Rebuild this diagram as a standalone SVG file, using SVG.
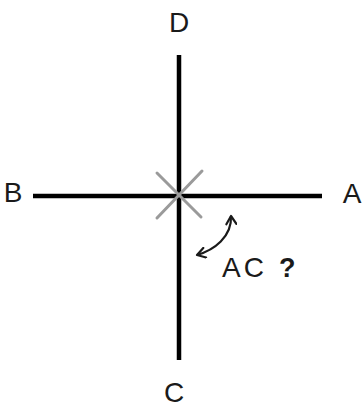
<svg xmlns="http://www.w3.org/2000/svg" width="363" height="407" viewBox="0 0 363 407">
<defs>
<style>
.lbl{font-family:"Liberation Sans",Arial,sans-serif;font-size:28px;fill:#1a1a1a}
.axis{stroke:#000;stroke-width:4.5;stroke-linecap:butt}
.xmark{stroke:#9a9a9a;stroke-width:3;stroke-linecap:round}
</style>
<marker id="chev" viewBox="0 0 12 12" refX="10" refY="6" markerWidth="12" markerHeight="12" markerUnits="userSpaceOnUse" orient="auto-start-reverse">
<path d="M2,1 L10,6 L2,11" fill="none" stroke="#1a1a1a" stroke-width="2.2" stroke-linecap="round" stroke-linejoin="round"/>
</marker>
</defs>
<rect width="363" height="407" fill="#fff"/>
<g id="connectors">
<line class="axis" x1="179" y1="55" x2="179" y2="360"/>
<line class="axis" x1="33" y1="196" x2="322" y2="196"/>
<line class="xmark" x1="157" y1="173" x2="201" y2="217"/>
<line class="xmark" x1="157" y1="218" x2="202" y2="171"/>
<path d="M197,255 C214,250 232,237 231,216" fill="none" stroke="#1a1a1a" stroke-width="2.2" marker-start="url(#chev)" marker-end="url(#chev)"/>
</g>
<g id="D"><text class="lbl" x="179" y="32" text-anchor="middle">D</text></g>
<g id="B"><text class="lbl" x="13" y="202" text-anchor="middle">B</text></g>
<g id="A"><text class="lbl" x="352" y="203" text-anchor="middle">A</text></g>
<g id="C"><text class="lbl" x="174" y="402" text-anchor="middle">C</text></g>
<g id="AC"><text class="lbl" x="222" y="277" letter-spacing="3">AC</text><text class="lbl" x="279" y="277" style="font-weight:bold;font-size:27px">?</text></g>
</svg>
